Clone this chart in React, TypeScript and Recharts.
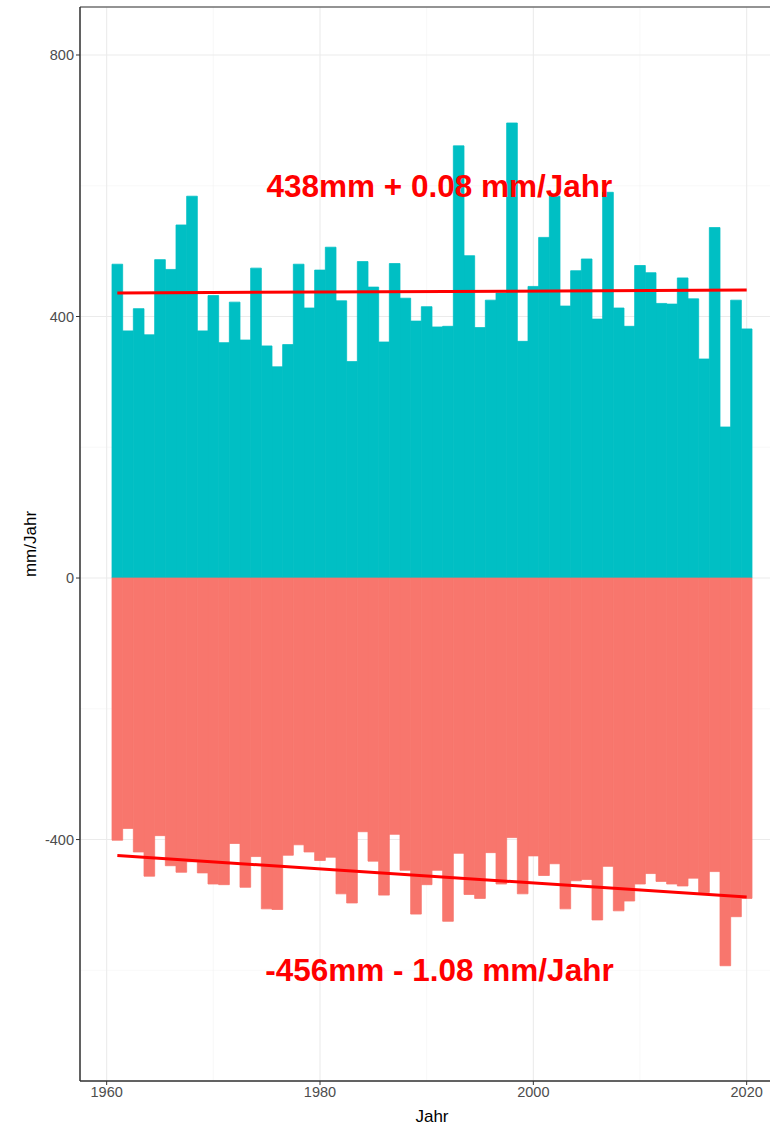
import React from "react"
import {
  ComposedChart,
  Bar,
  Line,
  XAxis,
  YAxis,
  CartesianGrid,
  ReferenceArea,
  ReferenceDot,
} from "recharts"

const years = [
  1961, 1962, 1963, 1964, 1965, 1966, 1967, 1968, 1969, 1970,
  1971, 1972, 1973, 1974, 1975, 1976, 1977, 1978, 1979, 1980,
  1981, 1982, 1983, 1984, 1985, 1986, 1987, 1988, 1989, 1990,
  1991, 1992, 1993, 1994, 1995, 1996, 1997, 1998, 1999, 2000,
  2001, 2002, 2003, 2004, 2005, 2006, 2007, 2008, 2009, 2010,
  2011, 2012, 2013, 2014, 2015, 2016, 2017, 2018, 2019, 2020,
]

// Zufluss (positiv)
const inflow = [
  480, 378, 412, 372, 487, 472, 540, 584, 378, 432,
  360, 422, 364, 474, 355, 323, 357, 480, 413, 471,
  506, 424, 331, 484, 445, 361, 481, 428, 393, 415,
  384, 385, 661, 493, 383, 425, 436, 696, 362, 446,
  521, 584, 416, 470, 488, 396, 590, 413, 385, 478,
  467, 420, 419, 459, 427, 335, 536, 231, 425, 381,
]

// Abfluss (negativ)
const outflow = [
  -401, -383, -419, -456, -394, -440, -450, -434, -451, -468,
  -469, -406, -473, -426, -506, -507, -424, -408, -419, -432,
  -427, -483, -497, -388, -433, -485, -392, -447, -514, -469,
  -447, -525, -421, -484, -490, -420, -468, -397, -483, -425,
  -455, -437, -506, -463, -461, -523, -441, -509, -494, -468,
  -452, -464, -468, -471, -459, -481, -449, -593, -518, -490,
]

const trendYears = [1961, 2020]
const upperTrend = [436, 440.5]
const lowerTrend = [-424.5, -488]

const xTicks = [1960, 1980, 2000, 2020]
const xMinor = [1970, 1990, 2010]
const yTicks = [-400, 0, 400, 800]
const yMinor = [-600, -200, 200, 600]

const upperLabel = "438mm + 0.08 mm/Jahr"
const lowerLabel = "-456mm - 1.08 mm/Jahr"

const X_DOMAIN: [number, number] = [1957.5, 2023.5]
const Y_DOMAIN: [number, number] = [-769.3, 873.4]

const data = years.map((year, i) => {
  const t = trendYears.indexOf(year)
  return {
    year,
    pos: inflow[i],
    neg: outflow[i],
    up: t >= 0 ? upperTrend[t] : null,
    low: t >= 0 ? lowerTrend[t] : null,
  }
})

const tickStyle = { fill: "#4D4D4D", fontSize: 14.5 }
const TEAL = "#00BFC4"
const SALMON = "#F8766D"

export default function App() {
  return (
    <div
      style={{
        position: "absolute",
        left: 0,
        top: 0,
        width: 770,
        height: 1131,
        overflow: "hidden",
        background: "#fff",
        fontFamily: "'Liberation Sans', Arial, sans-serif",
      }}
    >
      <ComposedChart
        width={800}
        height={1131}
        data={data}
        stackOffset="sign"
        margin={{ top: 7, right: 16, bottom: 0, left: 0 }}
      >
        {/* minor grid through hidden axes */}
        <CartesianGrid xAxisId="minor" yAxisId="minor" stroke="#F3F3F3" strokeWidth={0.6} />
        <CartesianGrid stroke="#EBEBEB" strokeWidth={1.1} />
        <XAxis xAxisId="minor" dataKey="year" type="number" domain={X_DOMAIN} ticks={xMinor} allowDataOverflow hide />
        <YAxis yAxisId="minor" type="number" domain={Y_DOMAIN} ticks={yMinor} allowDataOverflow hide />
        <XAxis
          dataKey="year"
          type="number"
          domain={X_DOMAIN}
          ticks={xTicks}
          allowDataOverflow
          height={50}
          tick={tickStyle}
          tickSize={4}
          tickLine={{ stroke: "#333333" }}
          axisLine={{ stroke: "#333333" }}
          label={{ value: "Jahr", position: "insideBottom", offset: 9, fill: "#000", fontSize: 17 }}
        />
        <YAxis
          type="number"
          domain={Y_DOMAIN}
          ticks={yTicks}
          allowDataOverflow
          width={80}
          tick={tickStyle}
          tickSize={4}
          tickLine={{ stroke: "#333333" }}
          axisLine={{ stroke: "#333333" }}
          label={{
            value: "mm/Jahr",
            angle: -90,
            position: "insideLeft",
            offset: 30,
            fill: "#000",
            fontSize: 17,
            style: { textAnchor: "middle" },
          }}
        />
        <Bar dataKey="pos" stackId="a" fill={TEAL} stroke={TEAL} strokeWidth={0.8} barSize={10.66} isAnimationActive={false} />
        <Bar dataKey="neg" stackId="a" fill={SALMON} stroke={SALMON} strokeWidth={0.8} barSize={10.66} isAnimationActive={false} />
        <Line dataKey="up" stroke="#FF0000" strokeWidth={3} dot={false} connectNulls isAnimationActive={false} />
        <Line dataKey="low" stroke="#FF0000" strokeWidth={3} dot={false} connectNulls isAnimationActive={false} />
        <ReferenceDot
          x={1991.2}
          y={600}
          r={0}
          label={{ value: upperLabel, position: "center", fill: "#FF0000", fontSize: 31.5, fontWeight: "bold" }}
        />
        <ReferenceDot
          x={1991.2}
          y={-600}
          r={0}
          label={{ value: lowerLabel, position: "center", fill: "#FF0000", fontSize: 31.5, fontWeight: "bold" }}
        />
        <ReferenceArea
          x1={X_DOMAIN[0]}
          x2={X_DOMAIN[1]}
          y1={Y_DOMAIN[0]}
          y2={Y_DOMAIN[1]}
          fill="none"
          stroke="#333333"
          strokeWidth={1}
          ifOverflow="visible"
        />
      </ComposedChart>
    </div>
  )
}
